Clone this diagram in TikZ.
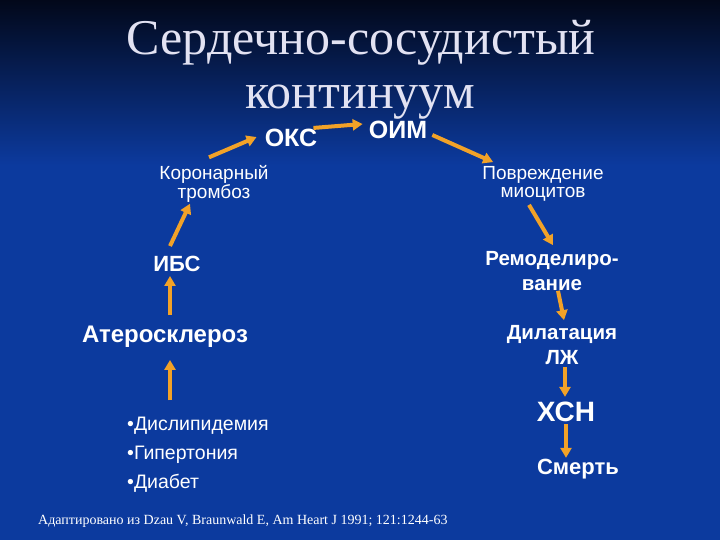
\documentclass[tikz,border=0pt]{standalone}
\usepackage{fontspec}
\setmainfont{Liberation Sans}
\newfontfamily\titlefont{Liberation Serif}
\usetikzlibrary{arrows.meta}

\definecolor{slideblue}{RGB}{12,58,158}
\definecolor{slidetop}{RGB}{2,8,26}
\definecolor{arroworange}{RGB}{242,162,40}
\definecolor{titlewhite}{RGB}{226,226,242}

\tikzset{
  titletext/.style={text=titlewhite, font=\titlefont\fontsize{50}{50}\selectfont, inner sep=0pt, anchor=base},
  lbl/.style={text=white, align=center, inner sep=1pt},
  smalllbl/.style={lbl, font=\fontsize{19}{17}\selectfont},
  boldlbl/.style={lbl, font=\bfseries\fontsize{20.5}{25}\selectfont},
  flow/.style={draw=arroworange, line width=4pt, -{Triangle[width=11pt,length=10pt]}},
}

\begin{document}
\begin{tikzpicture}[x=1pt,y=-1pt]
\useasboundingbox (0,0) rectangle (720,540);
\fill[slideblue] (0,0) rectangle (720,540);
\shade[top color=slidetop, bottom color=slideblue] (0,0) rectangle (720,165);

\node[titletext] (title1) at (361,55) {Сердечно-сосудистый};
\node[titletext] (title2) at (360,109) {континуум};

\node[lbl, font=\bfseries\fontsize{25}{25}\selectfont] (oks) at (291,138) {ОКС};
\node[lbl, font=\bfseries\fontsize{25}{25}\selectfont] (oim) at (398,130) {ОИМ};
\node[smalllbl] (thromb) at (214,184) {Коронарный\\тромбоз};
\node[lbl, font=\bfseries\fontsize{22}{22}\selectfont] (ibs) at (177,264) {ИБС};
\node[lbl, font=\bfseries\fontsize{24}{24}\selectfont] (ather) at (165,337) {Атеросклероз};
\foreach \t [count=\i] in {Дислипидемия,Гипертония,Диабет}
{
    \node[lbl, font=\fontsize{19.5}{19.5}\selectfont, anchor=base west] (risk\i) at (126,401+29*\i) {•\t};
}

\node[smalllbl] (damage) at (543,184) {Повреждение\\[1.5pt]миоцитов};
\node[boldlbl] (remod) at (552,271) {Ремоделиро-\\вание};
\node[boldlbl] (dilat) at (562,345) {Дилатация\\ЛЖ};
\node[lbl, font=\bfseries\fontsize{28}{28}\selectfont] (chf) at (566,412) {ХСН};
\node[lbl, font=\bfseries\fontsize{22}{22}\selectfont] (death) at (578,469) {Смерть};

\node[text=white, font=\titlefont\fontsize{14}{14}\selectfont, anchor=base west, inner sep=0pt] (source) at (38,524)
  {Адаптировано из Dzau V, Braunwald E, Am Heart J 1991; 121:1244-63};

\draw[flow] ([shift={(44,-15)}]risk1.north west) -- ([shift={(5,11)}]ather.south);
\draw[flow] ([shift={(5,-10)}]ather.north) -- ([shift={(-7,3)}]ibs.south);
\draw[flow] ([shift={(-7,-9)}]ibs.north) -- ([shift={(-24,0)}]thromb.south);
\draw[flow] ([shift={(-5,-7)}]thromb.north) -- ([shift={(-7,-1)}]oks.west);
\draw[flow] ([shift={(-5,0)}]oks.north east) -- ([shift={(-5,-6)}]oim.west);
\draw[flow] ([shift={(4,5)}]oim.east) -- ([shift={(12,-3)}]damage.north west);
\draw[flow] ([shift={(-14,2)}]damage.south) -- ([shift={(1,-5)}]remod.north);
\draw[flow] ([shift={(6,-1)}]remod.south) -- ([shift={(2,-4)}]dilat.north);
\draw[flow] ([shift={(3,1)}]dilat.south) -- ([shift={(-1,-4)}]chf.north);
\draw[flow] ([shift={(0,1)}]chf.south) -- ([shift={(-12,0)}]death.north);
\end{tikzpicture}
\end{document}
